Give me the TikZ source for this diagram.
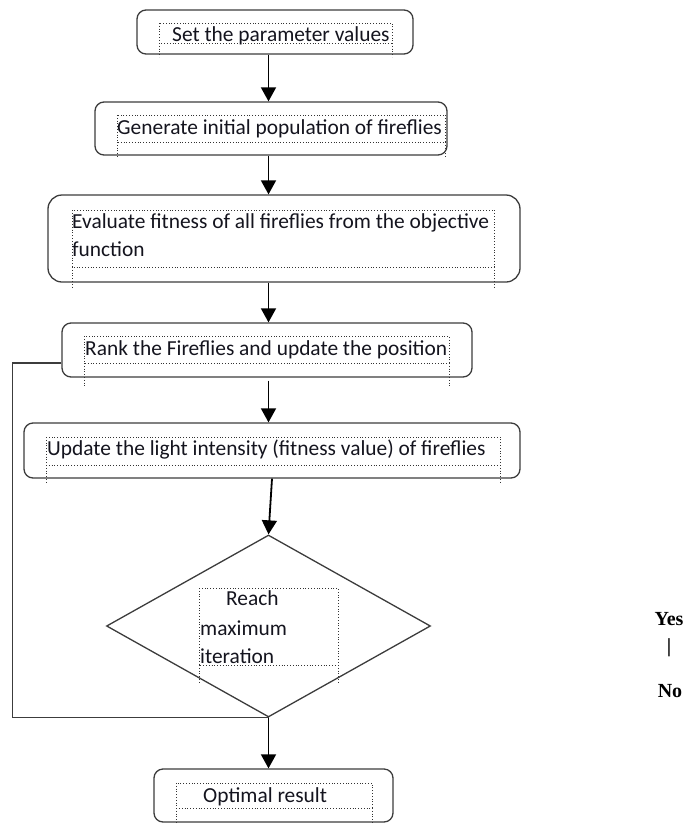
\documentclass[tikz,border=0pt]{standalone}
\usepackage{fontspec}
\setmainfont{Carlito}
\newfontfamily\ouinonfont{Liberation Serif}
\usetikzlibrary{arrows.meta,positioning,shapes.geometric}
\definecolor{contour}{RGB}{60,60,60}
\definecolor{encre}{RGB}{20,20,30}

\begin{document}
\begin{tikzpicture}[x=1pt,y=-1pt,
    boite/.style={draw=contour,line width=1.3pt,rounded corners=9pt,inner sep=0pt},
    texte/.style={anchor=base west,inner sep=0pt,font=\fontsize{21.4}{28}\selectfont,text=encre},
    fleche/.style={-{Triangle[width=15pt,length=14pt]},line width=1.8pt},
    cadre/.style={dotted,line width=0.8pt,black!80},
    ouinon/.style={anchor=base,inner sep=0pt,font=\ouinonfont\bfseries\fontsize{20}{24}\selectfont}]
  \useasboundingbox (0,0) rectangle (689,823);
  % boites
  \node[boite,minimum width=276pt,minimum height=44pt] (param) at (275,32) {};
  \node[boite,minimum width=352pt,minimum height=53pt] (popul) at (271,128.5) {};
  \node[boite,rounded corners=14pt,minimum width=472pt,minimum height=87pt] (evalue) at (284,238.5) {};
  \node[boite,minimum width=410pt,minimum height=54pt] (rang) at (267,350) {};
  \node[boite,minimum width=496pt,minimum height=55pt] (lumiere) at (272,450.5) {};
  \node[draw=contour,line width=1.3pt,diamond,inner sep=0pt,
        minimum width=324pt,minimum height=182pt] (iter) at (268.5,626) {};
  \node[boite,minimum width=239pt,minimum height=53pt] (optimal) at (273.5,795.5) {};
  % cadres pointilles
  \foreach \xa/\ya/\xb/\yb/\yc in {159/23/392/43/57,117/115/445/142/158,
      72/210/494/267/287,84/336/449/363/388,46/437/500/465/483,
      199/588/338/665/682,176/783/372/808/823}{
    \draw[cadre](\xa,\ya) rectangle (\xb,\yb) (\xa,\yb)--(\xa,\yc) (\xb,\yb)--(\xb,\yc);}
  % textes
  \node[texte] (tparam) at (172,41) {Set the parameter values};
  \node[texte] (tpopul) at (117,134) {Generate initial population of fireflies};
  \node[texte] (tevalue) at (72,228) {Evaluate fitness of all fireflies from the objective};
  \node[texte] (tevalueb) at (72,256) {function};
  \node[texte] (trang) at (85,355) {Rank the Fireflies and update the position};
  \node[texte] (tlumiere) at (47,455) {Update the light intensity (fitness value) of fireflies};
  \node[texte] (titer) at (226,605) {Reach};
  \node[texte] (titerb) at (200,635) {maximum};
  \node[texte] (titerc) at (200,663) {iteration};
  \node[texte] (toptimal) at (203,802) {Optimal result};
  % fleches
  \draw[fleche](param.south -| iter.north)--(popul.north -| iter.north);
  \draw[fleche](popul.south -| iter.north)--(evalue.north -| iter.north);
  \draw[fleche](evalue.south -| iter.north)--(rang.north -| iter.north);
  \draw[fleche]([yshift=-3pt]rang.south -| iter.north)--(lumiere.north -| iter.north);
  \draw[fleche](lumiere.south)--(iter.north);
  \draw[fleche](iter.south)--(optimal.north -| iter.south);
  \draw[contour,line width=1.3pt]([yshift=-13pt]rang.west)--++(-49,0) |- (iter.south);
  % oui / non
  \node[ouinon] (oui) at (669,625) {Yes};
  \node[ouinon] (barre) at (669,652) {|};
  \node[ouinon] (non) at (670,697) {No};
\end{tikzpicture}
\end{document}
